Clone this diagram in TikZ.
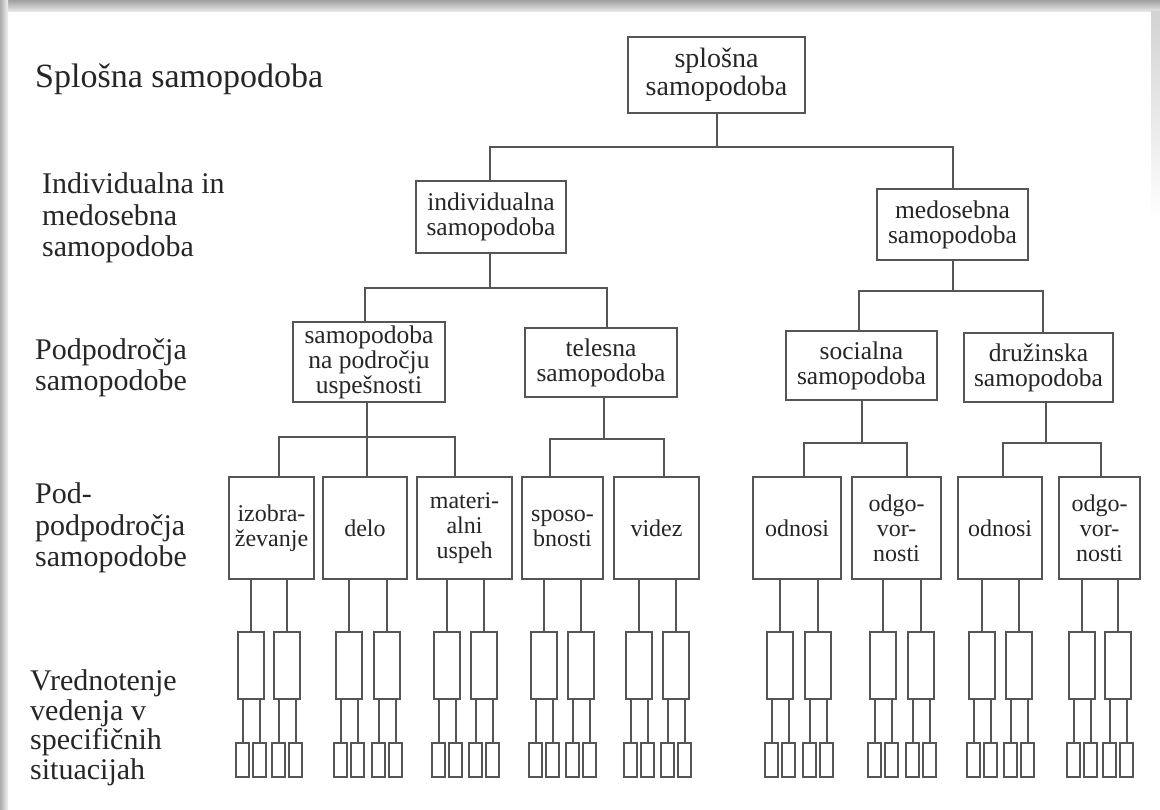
\documentclass[tikz,border=0pt]{standalone}
\usepackage{fontspec}
\setmainfont{Liberation Serif}
\usetikzlibrary{calc}
\definecolor{ink}{HTML}{262626}
\definecolor{lin}{HTML}{555555}
\newcommand\mybx[6]{\node[box, minimum width=#4pt, minimum height=#5pt] (#1) at (#2,#3) {#6};}
\begin{document}
\begin{tikzpicture}[x=1pt,y=-1pt,
  box/.style={draw=lin, line width=2pt, inner sep=0pt, align=center, text=ink, font=\fontsize{24}{25}\selectfont},
  ubox/.style={box, font=\fontsize{25.5}{25}\selectfont},
  lf/.style={draw=lin, line width=2pt, inner sep=0pt},
  ln/.style={draw=lin, line width=2pt},
  lab/.style={anchor=west, align=left, inner sep=0pt, text=ink, font=\fontsize{30}{31.5}\selectfont}]
\useasboundingbox (0,0) rectangle (1160,810);
% page background with scan shadow
\fill[white] (0,0) rectangle (1160,810);
\shade[top color=gray!75, bottom color=gray!15] (0,0) rectangle (1160,12);
\shade[left color=gray!65, right color=gray!10] (0,0) rectangle (8,810);
\shade[top color=gray!35, bottom color=white] (1151,12) rectangle (1160,220);

% left labels
\node[lab, font=\fontsize{34}{34}\selectfont] (l1) at (35,79) {Splošna samopodoba};
\node[lab] (l2) at (42,218) {Individualna in\\medosebna\\samopodoba};
\node[lab] (l3) at (35,368) {Podpodročja\\samopodobe};
\node[lab] (l4) at (35,528) {Pod-\\podpodročja\\samopodobe};
\node[lab, font=\fontsize{30}{29.5}\selectfont] (l5) at (30,728) {Vrednotenje\\vedenja v\\specifičnih\\situacijah};

% level 1-3 boxes
\node[box, minimum width=177pt, minimum height=76pt, font=\fontsize{28}{28}\selectfont] (top) at (716.5,75) {splošna\\samopodoba};
\node[ubox, minimum width=150pt, minimum height=72pt] (ind) at (491,217) {individualna\\samopodoba};
\node[ubox, minimum width=151pt, minimum height=71pt] (med) at (952.5,224.5) {medosebna\\samopodoba};
\node[ubox, minimum width=152pt, minimum height=80pt] (snpu) at (369,362) {samopodoba\\na področju\\uspešnosti};
\node[ubox, minimum width=152pt, minimum height=69pt] (tel) at (601,362.5) {telesna\\samopodoba};
\node[ubox, minimum width=151pt, minimum height=69pt] (soc) at (861.5,365.5) {socialna\\samopodoba};
\node[ubox, minimum width=149pt, minimum height=69pt] (dru) at (1038.5,367.5) {družinska\\samopodoba};

% level 4 boxes
\mybx{izo}{271.5}{528}{85}{102}{izobra-\\ževanje}
\mybx{delo}{365}{528}{84}{102}{delo}
\mybx{mat}{464.5}{528}{95}{102}{materi-\\alni\\uspeh}
\mybx{spo}{562.5}{528}{81}{102}{sposo-\\bnosti}
\mybx{vid}{656.5}{528}{85}{102}{videz}
\mybx{odnA}{797}{528}{88}{102}{odnosi}
\mybx{odgA}{896.5}{528}{89}{102}{odgo-\\vor-\\nosti}
\mybx{odnB}{1000}{528}{84}{102}{odnosi}
\mybx{odgB}{1099.5}{528}{81}{102}{odgo-\\vor-\\nosti}

% bracket levels
\coordinate (y1) at (0,147);
\coordinate (y2) at (0,288);
\coordinate (y3) at (0,291);
\coordinate (y4) at (0,437);
\coordinate (y5) at (0,439);
\coordinate (y6) at (0,443);

% connectors
\draw[ln] (top.south) -- (top.south |- y1);
\draw[ln] ([xshift=-1pt]ind.north) |- (top.south |- y1);
\draw[ln] (med.north) |- (top.south |- y1);

\draw[ln] ([xshift=-1pt]ind.south) -- ([xshift=-1pt]ind.south |- y2);
\draw[ln] ([xshift=-4pt]snpu.north) |- ([xshift=-1pt]ind.south |- y2);
\draw[ln] ([xshift=6pt]tel.north) |- ([xshift=-1pt]ind.south |- y2);

\draw[ln] (med.south) -- (med.south |- y3);
\draw[ln] ([xshift=-3pt]soc.north) |- (med.south |- y3);
\draw[ln] ([xshift=4.5pt]dru.north) |- (med.south |- y3);

\draw[ln] ([xshift=-2pt]snpu.south) -- ([xshift=-2pt]snpu.south |- y4);
\draw[ln] ([xshift=7.5pt]izo.north) |- ([xshift=-2pt]snpu.south |- y4);
\draw[ln] ([xshift=2pt]delo.north) |- ([xshift=-2pt]snpu.south |- y4);
\draw[ln] ([xshift=-9.5pt]mat.north) |- ([xshift=-2pt]snpu.south |- y4);

\draw[ln] ([xshift=3pt]tel.south) -- ([xshift=3pt]tel.south |- y5);
\draw[ln] ([xshift=-12.5pt]spo.north) |- ([xshift=3pt]tel.south |- y5);
\draw[ln] ([xshift=7.5pt]vid.north) |- ([xshift=3pt]tel.south |- y5);

\draw[ln] (soc.south) -- (soc.south |- y6);
\draw[ln] ([xshift=7pt]odnA.north) |- (soc.south |- y6);
\draw[ln] ([xshift=10.5pt]odgA.north) |- (soc.south |- y6);

\draw[ln] ([xshift=7.5pt]dru.south) -- ([xshift=7.5pt]dru.south |- y6);
\draw[ln] ([xshift=3pt]odnB.north) |- ([xshift=7.5pt]dru.south |- y6);
\draw[ln] ([xshift=1.5pt]odgB.north) |- ([xshift=7.5pt]dru.south |- y6);

% level 5 and level 6 boxes
\foreach \p/\xa/\xb in {izo/251/287, delo/349/387, mat/447/484, spo/544/581, vid/639/676, odnA/780/818, odgA/883/921, odnB/982/1019, odgB/1082/1118} {
  \foreach \c [count=\i] in {\xa,\xb} {
    \node[lf, minimum width=26pt, minimum height=67pt] (\p-\i) at (\c,665) {};
    \draw[ln] (\p.south -| \p-\i.north) -- (\p-\i.north);
    \node[lf, minimum width=13pt, minimum height=34pt] (\p-\i-a) at (\c-8.5,760) {};
    \node[lf, minimum width=13pt, minimum height=34pt] (\p-\i-b) at (\c+8.5,760) {};
    \draw[ln] (\p-\i.south -| \p-\i-a.north) -- (\p-\i-a.north);
    \draw[ln] (\p-\i.south -| \p-\i-b.north) -- (\p-\i-b.north);
  }
}
\end{tikzpicture}
\end{document}
